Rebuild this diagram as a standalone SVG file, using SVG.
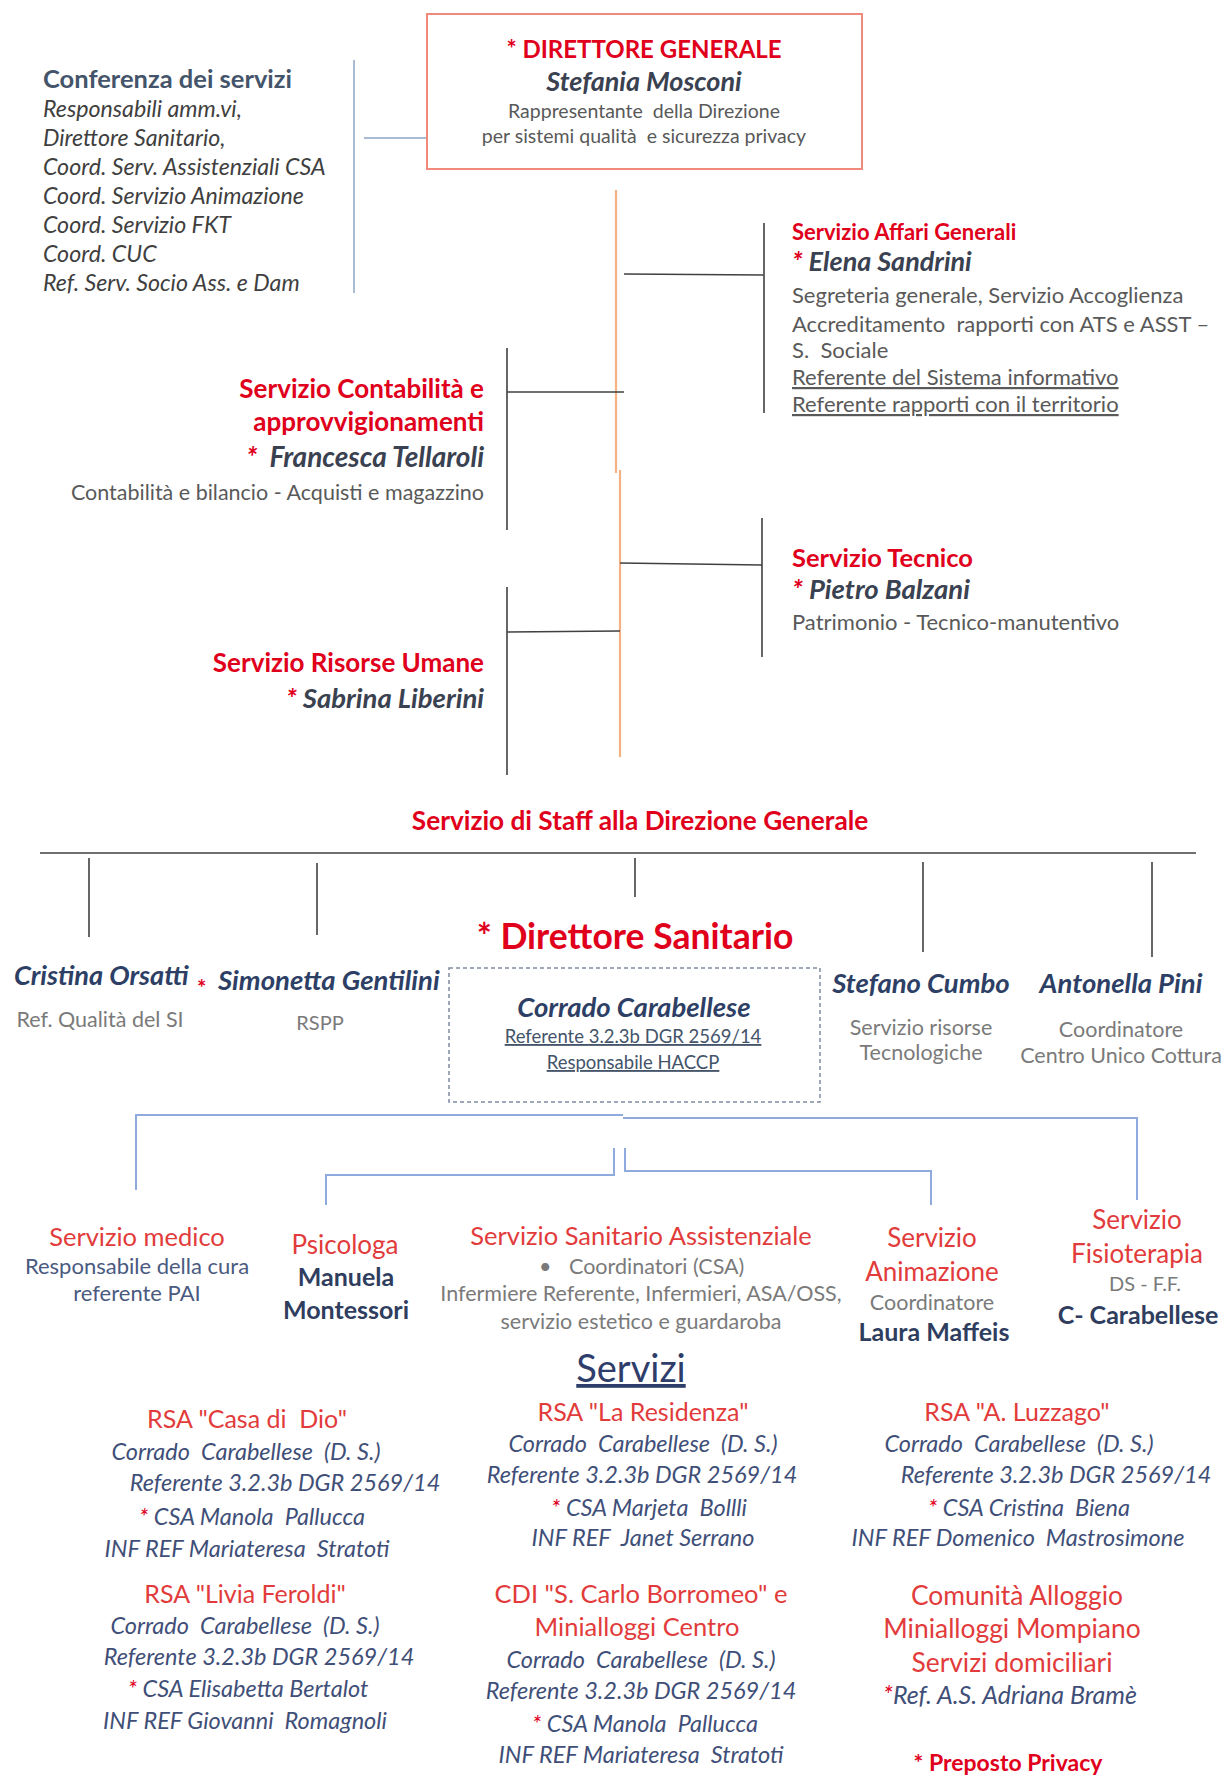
<svg xmlns="http://www.w3.org/2000/svg" width="1231" height="1776" viewBox="0 0 1231 1776">
<style>
text{font-family:Lato,"Liberation Sans",sans-serif}
.rb{fill:#E0001B;font-weight:700}
.r{fill:#E23B3B}
.nm{fill:#3A4150;font-weight:700;font-style:italic}
.nb{fill:#2E3F66;font-weight:700;font-style:italic}
.g{fill:#595959}
.g2{fill:#7A7A7A}
.bg{fill:#4A5A80}
.bi{fill:#3F4F78;font-style:italic}
.bb{fill:#2F3D5E;font-weight:700}
.st{fill:#E0001B}
.u{text-decoration:underline}
.c{text-anchor:middle}
.e{text-anchor:end}
.dk{stroke:#404040;stroke-width:1.6;fill:none}
.bl{stroke:#8FAADC;stroke-width:2;fill:none}
.or{stroke:#F4B183;stroke-width:2.2;fill:none}
</style>
<rect width="1231" height="1776" fill="#FFFFFF"/>
<g id="connectors">
<line class="bl" x1="354" y1="60" x2="354" y2="293" style="stroke:#8EA4C8;stroke-width:1.5"/>
<line class="bl" x1="364" y1="138" x2="427" y2="138" style="stroke:#8EA4C8;stroke-width:1.5"/>
<line class="or" x1="616" y1="190" x2="616" y2="473"/>
<line class="or" x1="620" y1="470" x2="620" y2="757"/>
<line class="dk" x1="624" y1="274" x2="764" y2="275"/>
<line class="dk" x1="764" y1="223" x2="764" y2="413"/>
<line class="dk" x1="507" y1="392" x2="624" y2="392"/>
<line class="dk" x1="507" y1="348" x2="507" y2="530"/>
<line class="dk" x1="620" y1="563" x2="762" y2="565"/>
<line class="dk" x1="762" y1="518" x2="762" y2="657"/>
<line class="dk" x1="507" y1="632" x2="620" y2="631"/>
<line class="dk" x1="507" y1="587" x2="507" y2="775"/>
<line class="dk" x1="40" y1="853" x2="1196" y2="853"/>
<line class="dk" x1="89" y1="858" x2="89" y2="937"/>
<line class="dk" x1="317" y1="863" x2="317" y2="935"/>
<line class="dk" x1="635" y1="858" x2="635" y2="897"/>
<line class="dk" x1="923" y1="862" x2="923" y2="952"/>
<line class="dk" x1="1152" y1="862" x2="1152" y2="957"/>
<polyline class="bl" points="136,1190 136,1115 623,1115"/>
<polyline class="bl" points="623,1118 1137,1118 1137,1200"/>
<polyline class="bl" points="326,1205 326,1175 614,1175 614,1148"/>
<polyline class="bl" points="625,1148 625,1171 931,1171 931,1205"/>
</g>
<g id="conferenza">
<text x="43" y="88" style="fill:#44546A;font-weight:700;font-size:25.5px">Conferenza dei servizi</text>
<g style="fill:#3F3F3F;font-style:italic;font-size:23.2px">
<text x="43" y="117">Responsabili amm.vi,</text>
<text x="43" y="146">Direttore Sanitario,</text>
<text x="43" y="175">Coord. Serv. Assistenziali CSA</text>
<text x="43" y="204">Coord. Servizio Animazione</text>
<text x="43" y="233">Coord. Servizio FKT</text>
<text x="43" y="262">Coord. CUC</text>
<text x="43" y="291">Ref. Serv. Socio Ass. e Dam</text>
</g>
</g>
<g id="direttore-generale">
<rect x="427" y="14" width="435" height="155" fill="#FFFFFF" stroke="#F08A7A" stroke-width="2"/>
<text class="rb c" x="644" y="58" style="font-size:24px">* DIRETTORE GENERALE</text>
<text class="nm c" x="644" y="91" style="font-size:27px">Stefania Mosconi</text>
<text class="g c" x="644" y="118" style="font-size:19.5px">Rappresentante &#160;della Direzione</text>
<text class="g c" x="644" y="143" style="font-size:19.5px">per sistemi qualità &#160;e sicurezza privacy</text>
</g>
<g id="affari-generali">
<text class="rb" x="792" y="240" style="font-size:22px">Servizio Affari Generali</text>
<text class="nm" x="792" y="271" style="font-size:27px"><tspan class="st">*</tspan> Elena Sandrini</text>
<g class="g" style="font-size:22px">
<text x="792" y="303">Segreteria generale, Servizio Accoglienza</text>
<text x="792" y="332">Accreditamento &#160;rapporti con ATS e ASST –</text>
<text x="792" y="358">S. &#160;Sociale</text>
<text class="u" x="792" y="385">Referente del Sistema informativo</text>
<text class="u" x="792" y="412">Referente rapporti con il territorio</text>
</g>
</g>
<g id="contabilita">
<text class="rb e" x="484" y="398" style="font-size:26px">Servizio Contabilità e</text>
<text class="rb e" x="484" y="431" style="font-size:26px">approvvigionamenti</text>
<text class="nm e" x="484" y="467" style="font-size:28px"><tspan class="st">*</tspan> &#160;Francesca Tellaroli</text>
<text class="g e" x="484" y="500" style="font-size:21.5px">Contabilità e bilancio - Acquisti e magazzino</text>
</g>
<g id="tecnico">
<text class="rb" x="792" y="567" style="font-size:25.5px">Servizio Tecnico</text>
<text class="nm" x="792" y="599" style="font-size:27.5px"><tspan class="st">*</tspan> Pietro Balzani</text>
<text class="g" x="792" y="630" style="font-size:22px">Patrimonio - Tecnico-manutentivo</text>
</g>
<g id="risorse-umane">
<text class="rb e" x="484" y="672" style="font-size:26px">Servizio Risorse Umane</text>
<text class="nm e" x="484" y="708" style="font-size:27.5px"><tspan class="st">*</tspan> Sabrina Liberini</text>
</g>
<g id="staff">
<text class="rb c" x="640" y="830" style="font-size:26.2px">Servizio di Staff alla Direzione Generale</text>
</g>
<g id="orsatti">
<text class="nb" x="14" y="985" style="font-size:27.2px">Cristina Orsatti</text>
<text class="g2 c" x="100" y="1027" style="font-size:21.5px">Ref. Qualità del SI</text>
</g>
<g id="gentilini">
<text class="st" x="197" y="996" style="font-size:22px;font-weight:700">*</text>
<text class="nb" x="218" y="990" style="font-size:27.5px">Simonetta Gentilini</text>
<text class="g2 c" x="320" y="1030" style="font-size:20px">RSPP</text>
</g>
<g id="direttore-sanitario">
<text class="rb c" x="635" y="949" style="font-size:35.5px">* Direttore Sanitario</text>
<rect x="449" y="968" width="371" height="134" fill="none" stroke="#7F8CA3" stroke-width="1.5" stroke-dasharray="4 3"/>
<text class="nb c" x="634" y="1017" style="font-size:27.5px">Corrado Carabellese</text>
<text class="c u" x="633" y="1043" style="font-size:18.5px;fill:#44546A">Referente 3.2.3b DGR 2569/14</text>
<text class="c u" x="633" y="1069" style="font-size:18.5px;fill:#44546A">Responsabile HACCP</text>
</g>
<g id="cumbo">
<text class="nb c" x="921" y="993" style="font-size:27.5px">Stefano Cumbo</text>
<text class="g2 c" x="921" y="1035" style="font-size:21.5px">Servizio risorse</text>
<text class="g2 c" x="921" y="1060" style="font-size:21.5px">Tecnologiche</text>
</g>
<g id="pini">
<text class="nb c" x="1121" y="993" style="font-size:27.5px">Antonella Pini</text>
<text class="g2 c" x="1121" y="1037" style="font-size:21.5px">Coordinatore</text>
<text class="g2 c" x="1121" y="1063" style="font-size:21.5px">Centro Unico Cottura</text>
</g>
<g id="servizio-medico">
<text class="r c" x="137" y="1246" style="font-size:25.5px">Servizio medico</text>
<text class="bg c" x="137" y="1274" style="font-size:22px">Responsabile della cura</text>
<text class="bg c" x="137" y="1301" style="font-size:22px">referente PAI</text>
</g>
<g id="psicologa">
<text class="r c" x="345" y="1254" style="font-size:26px">Psicologa</text>
<text class="bb c" x="346" y="1286" style="font-size:25px">Manuela</text>
<text class="bb c" x="346" y="1319" style="font-size:25px">Montessori</text>
</g>
<g id="sanitario-assistenziale">
<text class="r c" x="641" y="1245" style="font-size:25.5px">Servizio Sanitario Assistenziale</text>
<text class="g2" x="539" y="1274" style="font-size:21.5px">•</text>
<text class="g2" x="569" y="1274" style="font-size:21.5px">Coordinatori (CSA)</text>
<text class="g2 c" x="641" y="1301" style="font-size:21.5px">Infermiere Referente, Infermieri, ASA/OSS,</text>
<text class="g2 c" x="641" y="1329" style="font-size:21.5px">servizio estetico e guardaroba</text>
</g>
<g id="animazione">
<text class="r c" x="932" y="1247" style="font-size:26px">Servizio</text>
<text class="r c" x="932" y="1281" style="font-size:26px">Animazione</text>
<text class="g2 c" x="932" y="1310" style="font-size:21.5px">Coordinatore</text>
<text class="bb c" x="934" y="1341" style="font-size:25px">Laura Maffeis</text>
</g>
<g id="fisioterapia">
<text class="r c" x="1137" y="1229" style="font-size:26px">Servizio</text>
<text class="r c" x="1137" y="1263" style="font-size:26px">Fisioterapia</text>
<text class="g2 c" x="1145" y="1291" style="font-size:20px">DS - F.F.</text>
<text class="bb c" x="1138" y="1324" style="font-size:25px">C- Carabellese</text>
</g>
<g id="servizi-title">
<text class="c u" x="631" y="1382" style="font-size:38px;fill:#2F3D6B">Servizi</text>
</g>
<g id="rsa-casa-di-dio">
<text class="r c" x="247" y="1428" style="font-size:25px">RSA "Casa di &#160;Dio"</text>
<text class="bi c" x="246" y="1460" style="font-size:23.5px">Corrado &#160;Carabellese &#160;(D. S.)</text>
<text class="bi c" x="285" y="1491" style="font-size:23.5px">Referente 3.2.3b DGR 2569/14</text>
<text class="bi c" x="252" y="1525" style="font-size:23.5px"><tspan class="st">*</tspan> CSA Manola &#160;Pallucca</text>
<text class="bi c" x="247" y="1557" style="font-size:23.5px">INF REF Mariateresa &#160;Stratoti</text>
</g>
<g id="rsa-livia-feroldi">
<text class="r c" x="245" y="1603" style="font-size:25px">RSA "Livia Feroldi"</text>
<text class="bi c" x="245" y="1634" style="font-size:23.5px">Corrado &#160;Carabellese &#160;(D. S.)</text>
<text class="bi c" x="259" y="1665" style="font-size:23.5px">Referente 3.2.3b DGR 2569/14</text>
<text class="bi c" x="248" y="1697" style="font-size:23.5px"><tspan class="st">*</tspan> CSA Elisabetta Bertalot</text>
<text class="bi c" x="245" y="1729" style="font-size:23.5px">INF REF Giovanni &#160;Romagnoli</text>
</g>
<g id="rsa-la-residenza">
<text class="r c" x="643" y="1421" style="font-size:25px">RSA "La Residenza"</text>
<text class="bi c" x="643" y="1452" style="font-size:23.5px">Corrado &#160;Carabellese &#160;(D. S.)</text>
<text class="bi c" x="642" y="1483" style="font-size:23.5px">Referente 3.2.3b DGR 2569/14</text>
<text class="bi c" x="649" y="1516" style="font-size:23.5px"><tspan class="st">*</tspan> CSA Marjeta &#160;Bollli</text>
<text class="bi c" x="643" y="1546" style="font-size:23.5px">INF REF &#160;Janet Serrano</text>
</g>
<g id="cdi-carlo-borromeo">
<text class="r c" x="641" y="1603" style="font-size:25.5px">CDI "S. Carlo Borromeo" e</text>
<text class="r c" x="637" y="1636" style="font-size:25.5px">Minialloggi Centro</text>
<text class="bi c" x="641" y="1668" style="font-size:23.5px">Corrado &#160;Carabellese &#160;(D. S.)</text>
<text class="bi c" x="641" y="1699" style="font-size:23.5px">Referente 3.2.3b DGR 2569/14</text>
<text class="bi c" x="645" y="1732" style="font-size:23.5px"><tspan class="st">*</tspan> CSA Manola &#160;Pallucca</text>
<text class="bi c" x="641" y="1763" style="font-size:23.5px">INF REF Mariateresa &#160;Stratoti</text>
</g>
<g id="rsa-luzzago">
<text class="r c" x="1017" y="1421" style="font-size:25px">RSA "A. Luzzago"</text>
<text class="bi c" x="1019" y="1452" style="font-size:23.5px">Corrado &#160;Carabellese &#160;(D. S.)</text>
<text class="bi c" x="1056" y="1483" style="font-size:23.5px">Referente 3.2.3b DGR 2569/14</text>
<text class="bi c" x="1029" y="1516" style="font-size:23.5px"><tspan class="st">*</tspan> CSA Cristina &#160;Biena</text>
<text class="bi c" x="1018" y="1546" style="font-size:23.5px">INF REF Domenico &#160;Mastrosimone</text>
</g>
<g id="comunita-alloggio">
<text class="r c" x="1017" y="1605" style="font-size:26.4px">Comunità Alloggio</text>
<text class="r c" x="1012" y="1638" style="font-size:26.4px">Minialloggi Mompiano</text>
<text class="r c" x="1012" y="1672" style="font-size:26.4px">Servizi domiciliari</text>
<text class="bi c" x="1010" y="1704" style="font-size:25px"><tspan class="st">*</tspan>Ref. A.S. Adriana Bramè</text>
</g>
<g id="legenda">
<text class="rb c" x="1008" y="1771" style="font-size:23px"><tspan>*</tspan> Preposto Privacy</text>
</g>
</svg>
